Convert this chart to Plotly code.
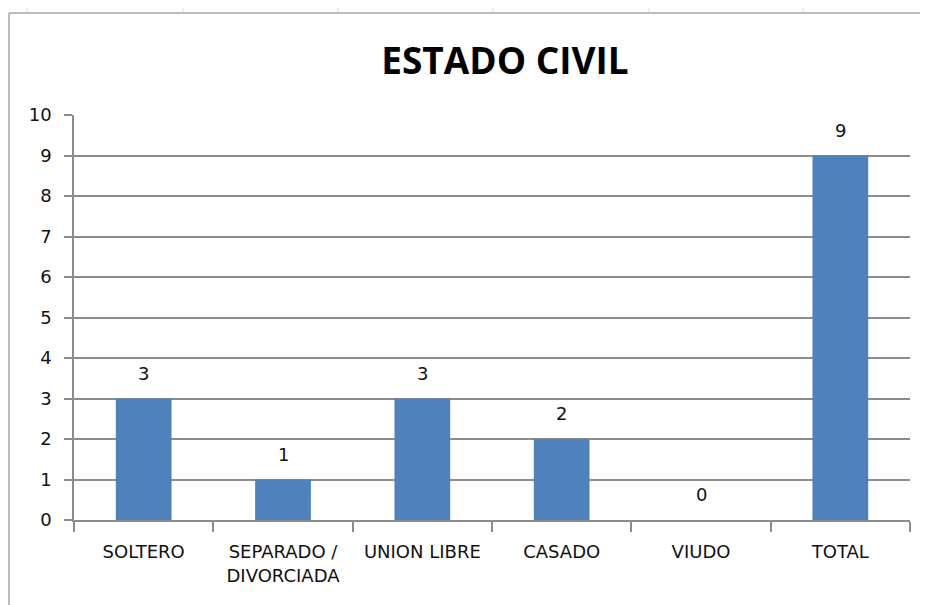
import plotly.graph_objects as go

categories = ["SOLTERO", "SEPARADO /<br>DIVORCIADA", "UNION LIBRE", "CASADO", "VIUDO", "TOTAL"]
values = [3, 1, 3, 2, 0, 9]
y_ticks = list(range(0, 11))

# the page body adds an 8px margin; figure occupies 8..928 x 8..605
OFF = 8
W, H = 928 - OFF, 605 - OFF
L, R, T, B = 74 - OFF, 18, 115 - OFF, 85
pw, ph = W - L - R, H - T - B

def px_x(x):
    return (x - OFF - L) / pw

def px_y(y):
    return (H - B - (y - OFF)) / ph

fig = go.Figure()
fig.add_trace(go.Bar(
    x=categories, y=values, width=0.4,
    marker=dict(color="#4F81BD", line=dict(width=0)),
    hoverinfo="skip",
))

for c, v in zip(categories, values):
    fig.add_annotation(x=c, y=v, text=str(v), showarrow=False,
                       yanchor="bottom", yshift=13,
                       font=dict(family="DejaVu Sans", size=18, color="#111111"))

grid = "#8c8c8c"
# worksheet frame (decoration)
shapes = [
    dict(type="line", xref="paper", yref="paper", x0=px_x(9), x1=px_x(9), y0=px_y(13), y1=px_y(605),
         line=dict(color="#a6a6a6", width=1.5)),
    dict(type="line", xref="paper", yref="paper", x0=px_x(9), x1=px_x(928), y0=px_y(13), y1=px_y(13),
         line=dict(color="#a6a6a6", width=1.5)),
]
for cx in [27, 183, 338, 493, 649, 803]:
    shapes.append(dict(type="line", xref="paper", yref="paper", x0=px_x(cx), x1=px_x(cx),
                       y0=px_y(OFF), y1=px_y(12), line=dict(color="#d9d9d9", width=1)))

fig.update_layout(
    width=W, height=H,
    margin=dict(l=L, r=R, t=T, b=B),
    paper_bgcolor="white", plot_bgcolor="white",
    showlegend=False,
    shapes=shapes,
    title=dict(text="ESTADO CIVIL", x=px_x(505), xref="paper", xanchor="center",
               y=1 - (61 - OFF) / H, yref="container", yanchor="middle",
               font=dict(family="Open Sans", size=37, color="black", weight="bold")),
    xaxis=dict(type="category", tickson="boundaries", ticks="outside", ticklen=10,
               tickcolor=grid, tickwidth=1.5, showline=True, linecolor=grid, linewidth=1.5,
               showgrid=False, ticklabelstandoff=15,
               tickfont=dict(family="DejaVu Sans", size=18, color="#111111"),
               range=[-0.5, 5.5]),
    yaxis=dict(range=[0, 10], tickvals=y_ticks, ticks="outside", ticklen=8,
               tickcolor=grid, tickwidth=1.5, showline=True, linecolor=grid, linewidth=1.5,
               showgrid=True, gridcolor=grid, gridwidth=1.5, zeroline=False,
               ticklabelstandoff=9,
               tickfont=dict(family="DejaVu Sans", size=18, color="#111111")),
)

fig.write_html("out.html")
